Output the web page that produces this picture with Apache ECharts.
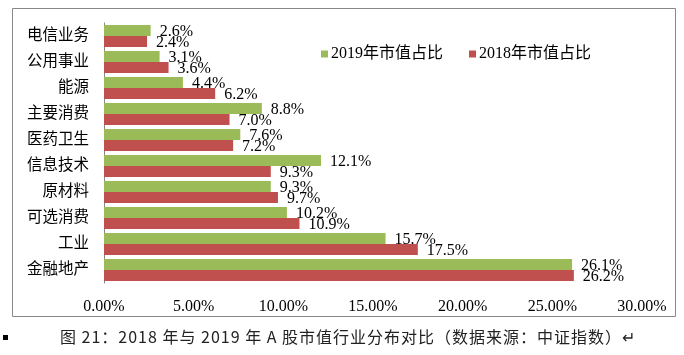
<!DOCTYPE html>
<html>
<head>
<meta charset="utf-8">
<script src="https://cdn.jsdelivr.net/npm/echarts@6/dist/echarts.min.js"></script>
<style>
html,body{margin:0;padding:0;background:#fff;}
#chart{width:684px;height:355px;}
</style>
</head>
<body>
<div id="chart"></div>
<script>
var categories = ['电信业务','公用事业','能源','主要消费','医药卫生','信息技术','原材料','可选消费','工业','金融地产'];
var values2019 = [2.6, 3.1, 4.4, 8.8, 7.6, 12.1, 9.3, 10.2, 15.7, 26.1];
var values2018 = [2.4, 3.6, 6.2, 7.0, 7.2, 9.3, 9.7, 10.9, 17.5, 26.2];
var seriesNames = ['2019年市值占比', '2018年市值占比'];
var xTicks = [0, 5, 10, 15, 20, 25, 30];
var caption = '图 21：2018 年与 2019 年 A 股市值行业分布对比（数据来源：中证指数）↵';

var FONT = "'Liberation Serif', 'Noto Sans CJK SC', serif";
var chart = echarts.init(document.getElementById('chart'));
var spacedCaption = caption.split('').join('\u200A');

chart.setOption({
  animation: false,
  backgroundColor: '#fff',
  textStyle: { fontFamily: FONT },
  grid: { left: 104, right: 42, top: 23, bottom: 72, containLabel: false },
  legend: {
    left: 316, top: 41,
    itemWidth: 7, itemHeight: 7, itemGap: 26,
    icon: 'rect',
    textStyle: { fontFamily: FONT, fontSize: 16, color: '#000', padding: [0,0,0,-2] },
    data: seriesNames
  },
  xAxis: {
    type: 'value', min: xTicks[0], max: xTicks[xTicks.length-1], interval: 5,
    axisLine: { show: false }, axisTick: { show: false }, splitLine: { show: false },
    axisLabel: { margin: 16, fontFamily: FONT, fontSize: 16, color: '#000',
      formatter: function (v) { return v.toFixed(2) + '%'; } }
  },
  yAxis: {
    type: 'category', inverse: true, data: categories,
    axisLine: { show: true, lineStyle: { color: '#888', width: 1 } },
    axisTick: { show: false },
    axisLabel: { margin: 15, fontFamily: FONT, fontSize: 15.5, color: '#000' }
  },
  series: [
    { name: seriesNames[0], type: 'bar', data: values2019, barGap: '0%', barCategoryGap: '15%',
      itemStyle: { color: '#9BBB59' },
      label: { show: true, position: 'right', distance: 9, offset: [0, 1], fontFamily: FONT, fontSize: 16, color: '#000',
        formatter: function (p) { return p.value.toFixed(1) + '%'; } } },
    { name: seriesNames[1], type: 'bar', data: values2018, barGap: '0%', barCategoryGap: '15%',
      itemStyle: { color: '#C0504D' },
      label: { show: true, position: 'right', distance: 9, offset: [0, 1.5], fontFamily: FONT, fontSize: 16, color: '#000',
        formatter: function (p) { return p.value.toFixed(1) + '%'; } } }
  ],
  graphic: [
    { type: 'rect', shape: { x: 12.5, y: 8.5, width: 663, height: 308 },
      style: { fill: 'none', stroke: '#888', lineWidth: 1 }, silent: true },
    { type: 'rect', shape: { x: 3, y: 335, width: 5, height: 5 }, style: { fill: '#000' } },
    { type: 'text', left: 60, top: 329,
      style: { text: spacedCaption, fontFamily: "'Noto Sans CJK SC', sans-serif", fontSize: 16, fill: '#222' } }
  ]
});
</script>
</body>
</html>
